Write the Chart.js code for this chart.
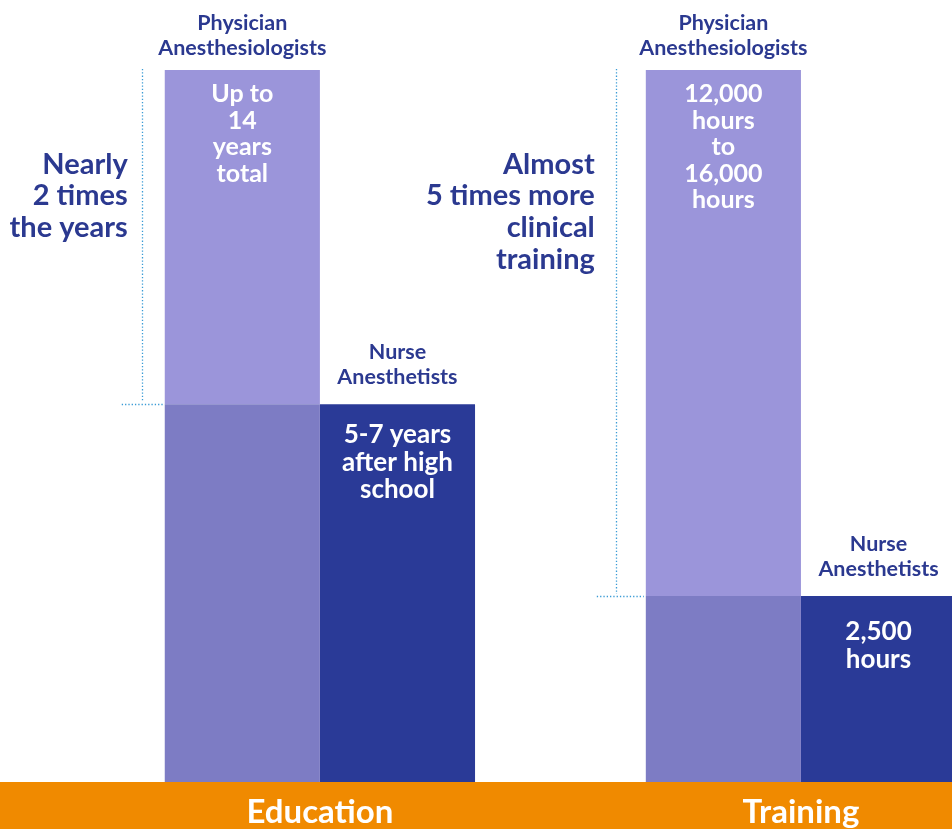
<!DOCTYPE html>
<html>
<head>
<meta charset="utf-8">
<style>
  html, body { margin: 0; padding: 0; background: #fff; }
  canvas { display: block; }
</style>
<script src="https://cdn.jsdelivr.net/npm/chart.js@4.4.1/dist/chart.umd.min.js"></script>
</head>
<body>
<canvas id="chart" width="952" height="829"></canvas>
<script>
// groups along the bottom band
const groups = ['Education', 'Training'];
// bar heights as drawn in the picture (years for education, hours for training;
// the training pair is not drawn to scale in the original)
const physician = [14, 16000];
const nurse = [7.43, 4180];

const physicianHeader = ['Physician', 'Anesthesiologists'];
const nurseHeader = ['Nurse', 'Anesthetists'];
const physicianText = [
  ['Up to', '14', 'years', 'total'],
  ['12,000', 'hours', 'to', '16,000', 'hours'],
];
const nurseText = [
  ['5-7 years', 'after high', 'school'],
  ['2,500', 'hours'],
];
const compareText = [
  ['Nearly', '2 times', 'the years'],
  ['Almost', '5 times more', 'clinical', 'training'],
];

const LIGHT = '#9b95da';
const MID = '#7d7cc4';
const DARK = '#2a3a97';
const INK = '#2b3990';
const ORANGE = '#f08a00';
const DOTS = '#3a9bd5';
const axisIds = ['yEdu', 'yTrain'];

const datasets = [];
groups.forEach((g, i) => {
  // lower part of the physician bar, same height as the nurse bar
  datasets.push({
    label: g + ' physician (shared)',
    data: [{ x: i, y: nurse[i] }],
    yAxisID: axisIds[i],
    stack: 'physician',
    backgroundColor: MID,
  });
  datasets.push({
    label: g + ' physician',
    data: [{ x: i, y: physician[i] - nurse[i] }],
    yAxisID: axisIds[i],
    stack: 'physician',
    backgroundColor: LIGHT,
  });
  datasets.push({
    label: g + ' nurse',
    data: [{ x: i, y: nurse[i] }],
    yAxisID: axisIds[i],
    stack: 'nurse',
    backgroundColor: DARK,
  });
});

const bottomBand = {
  id: 'bottomBand',
  beforeDraw(chart) {
    const { ctx, chartArea, width, height } = chart;
    ctx.save();
    ctx.fillStyle = ORANGE;
    ctx.fillRect(0, chartArea.bottom, width, height - chartArea.bottom);
    ctx.restore();
  },
};

function drawLines(ctx, lines, x, y, step) {
  lines.forEach((t, k) => ctx.fillText(t, x, y + k * step));
}

const barTexts = {
  id: 'barTexts',
  afterDatasetsDraw(chart, args, opts) {
    const { ctx } = chart;
    ctx.save();
    groups.forEach((g, i) => {
      const yScale = chart.scales[axisIds[i]];
      const physBar = chart.getDatasetMeta(3 * i + 1).data[0];
      const nurseBar = chart.getDatasetMeta(3 * i + 2).data[0];
      const physTop = yScale.getPixelForValue(physician[i]);
      const nurseTop = yScale.getPixelForValue(nurse[i]);
      const physLeft = physBar.x - physBar.width / 2;
      const b = opts.bracket[i];

      // headers above bars
      ctx.fillStyle = INK;
      ctx.textAlign = 'center';
      ctx.textBaseline = 'alphabetic';
      ctx.font = 'bold 21.5px Lato';
      drawLines(ctx, physicianHeader, physBar.x, physTop - 15 - 25, 25);
      drawLines(ctx, nurseHeader, nurseBar.x, nurseTop - 20 - 25, 25);

      // text inside bars
      ctx.fillStyle = '#ffffff';
      ctx.font = 'bold 25px Lato';
      drawLines(ctx, physicianText[i], physBar.x, physTop + 32, 26.5);
      ctx.font = 'bold 26px Lato';
      drawLines(ctx, nurseText[i], nurseBar.x, nurseTop + opts.nurseOffset[i], 27.6);

      // comparison text
      ctx.fillStyle = INK;
      ctx.textAlign = 'right';
      ctx.font = 'bold 29px Lato';
      drawLines(ctx, compareText[i], physLeft - b.textGap, physTop + 103.5, 31.7);

      // dotted bracket
      ctx.strokeStyle = DOTS;
      ctx.lineWidth = 1.3;
      ctx.setLineDash([1.3, 2]);
      const lx = Math.round(physLeft - b.lineX) + 0.5;
      ctx.beginPath();
      ctx.moveTo(lx, physTop - 1);
      ctx.lineTo(lx, nurseTop - 2);
      ctx.stroke();
      ctx.beginPath();
      ctx.moveTo(physLeft - b.from, Math.round(nurseTop) + 0.5);
      ctx.lineTo(physLeft - 2, Math.round(nurseTop) + 0.5);
      ctx.stroke();
      ctx.setLineDash([]);
    });
    ctx.restore();
  },
};

const config = {
  type: 'bar',
  data: { datasets },
  options: {
    responsive: false,
    animation: false,
    layout: { padding: { top: 70, left: 0, right: 0, bottom: 0 } },
    categoryPercentage: 0.645,
    barPercentage: 1,
    borderWidth: 0,
    plugins: {
      legend: { display: false },
      tooltip: { enabled: false },
      barTexts: {
        nurseOffset: [39, 44],
        bracket: [
          { lineX: 23, from: 43, textGap: 37 },
          { lineX: 30, from: 49, textGap: 51 },
        ],
      },
    },
    scales: {
      x: {
        type: 'linear',
        offset: false,
        min: -0.665,
        max: 1.314,
        grid: { display: false, drawTicks: false, offset: false },
        border: { display: false },
        afterBuildTicks: (scale) => {
          scale.ticks = groups.map((g, i) => ({ value: i }));
        },
        afterFit: (scale) => {
          scale.height = 47;
        },
        ticks: {
          autoSkip: false,
          maxRotation: 0,
          padding: 10.5,
          color: '#ffffff',
          font: { family: 'Lato', weight: 'bold', size: 33, lineHeight: 1.2 },
          callback: (v) => groups[v],
        },
      },
      yEdu: {
        display: false,
        stacked: true,
        min: 0,
        max: physician[0],
      },
      yTrain: {
        display: false,
        stacked: true,
        min: 0,
        max: physician[1],
      },
    },
  },
  plugins: [bottomBand, barTexts],
};

const myChart = new Chart(document.getElementById('chart'), config);
</script>
</body>
</html>
